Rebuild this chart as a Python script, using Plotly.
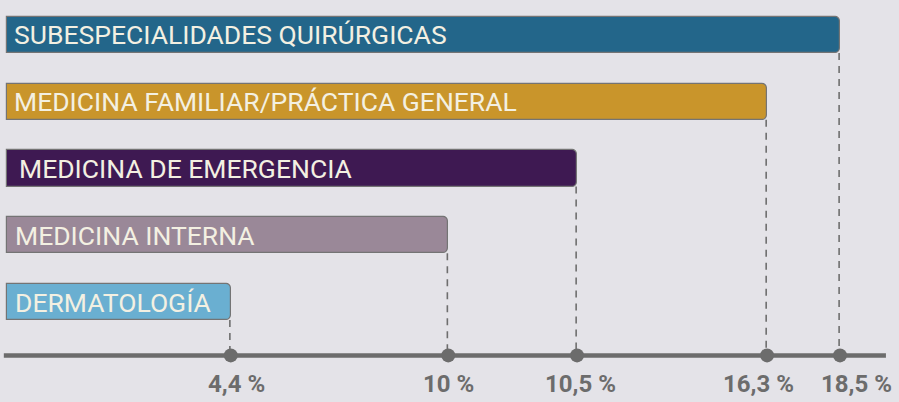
import plotly.graph_objects as go

# ---- data ----
categories = [
    "SUBESPECIALIDADES QUIRÚRGICAS",
    "MEDICINA FAMILIAR/PRÁCTICA GENERAL",
    "MEDICINA DE EMERGENCIA",
    "MEDICINA INTERNA",
    "DERMATOLOGÍA",
]
values = [18.5, 16.3, 10.5, 10.0, 4.4]            # printed percentages
drawn_length = [18.5, 16.88, 12.66, 9.80, 4.97]   # bar lengths as drawn in the infographic
tick_labels = ["18,5 %", "16,3 %", "10,5 %", "10 %", "4,4 %"]

# ---- styles ----
colors = ["#23668a", "#c9952b", "#3e1952", "#9a8898", "#6aafd1"]
label_shift = [5, 5, 10, 6, 6]
tick_shift = [16, -9, 3, 0, 6]
bg = "#e4e3e8"
grey = "#6c6c6c"

ypos = [4, 3, 2, 1, 0]
axis_y = -0.80
bar_w = 0.54

fig = go.Figure()

fig.add_trace(go.Bar(
    x=drawn_length, y=ypos, orientation="h", width=bar_w,
    marker=dict(color=colors, line=dict(color="#747474", width=1.2), cornerradius=5),
    hoverinfo="skip", showlegend=False,
))

# dashed drop lines
for L, y in zip(drawn_length, ypos):
    fig.add_trace(go.Scatter(
        x=[L - 0.02, L - 0.02], y=[y - bar_w / 2, axis_y], mode="lines",
        line=dict(color="#6e6e6e", width=1.6, dash="7px,6px"),
        hoverinfo="skip", showlegend=False,
    ))

# axis line
fig.add_shape(type="line", xref="x", yref="y", x0=-0.07, x1=19.52, y0=axis_y, y1=axis_y,
              line=dict(color=grey, width=4.5), layer="above")

# dots
fig.add_trace(go.Scatter(
    x=drawn_length, y=[axis_y] * len(drawn_length), mode="markers",
    marker=dict(size=14, color=grey), hoverinfo="skip", showlegend=False,
))

# bar labels
for cat, y, s in zip(categories, ypos, label_shift):
    fig.add_annotation(x=0, y=y, text=cat, showarrow=False, xanchor="left", yanchor="middle",
                       xshift=s, font=dict(family="Roboto", size=26.5, color="#f3f0e2"))

# tick labels
for L, t, s in zip(drawn_length, tick_labels, tick_shift):
    fig.add_annotation(x=L, y=-1.23, text=f"<b>{t}</b>", showarrow=False, xanchor="center",
                       yanchor="middle", xshift=s,
                       font=dict(family="Roboto", size=24, color=grey))

fig.update_layout(
    width=899, height=402, margin=dict(l=0, r=0, t=0, b=0),
    paper_bgcolor=bg, plot_bgcolor=bg,
    xaxis=dict(range=[-0.155, 19.81], visible=False, fixedrange=True),
    yaxis=dict(range=[-1.498, 4.524], visible=False, fixedrange=True),
    bargap=0,
)

fig.write_html("out.html",
               post_script="document.body.style.margin='0';document.body.style.background='%s';" % bg,
               config={"displayModeBar": False})
